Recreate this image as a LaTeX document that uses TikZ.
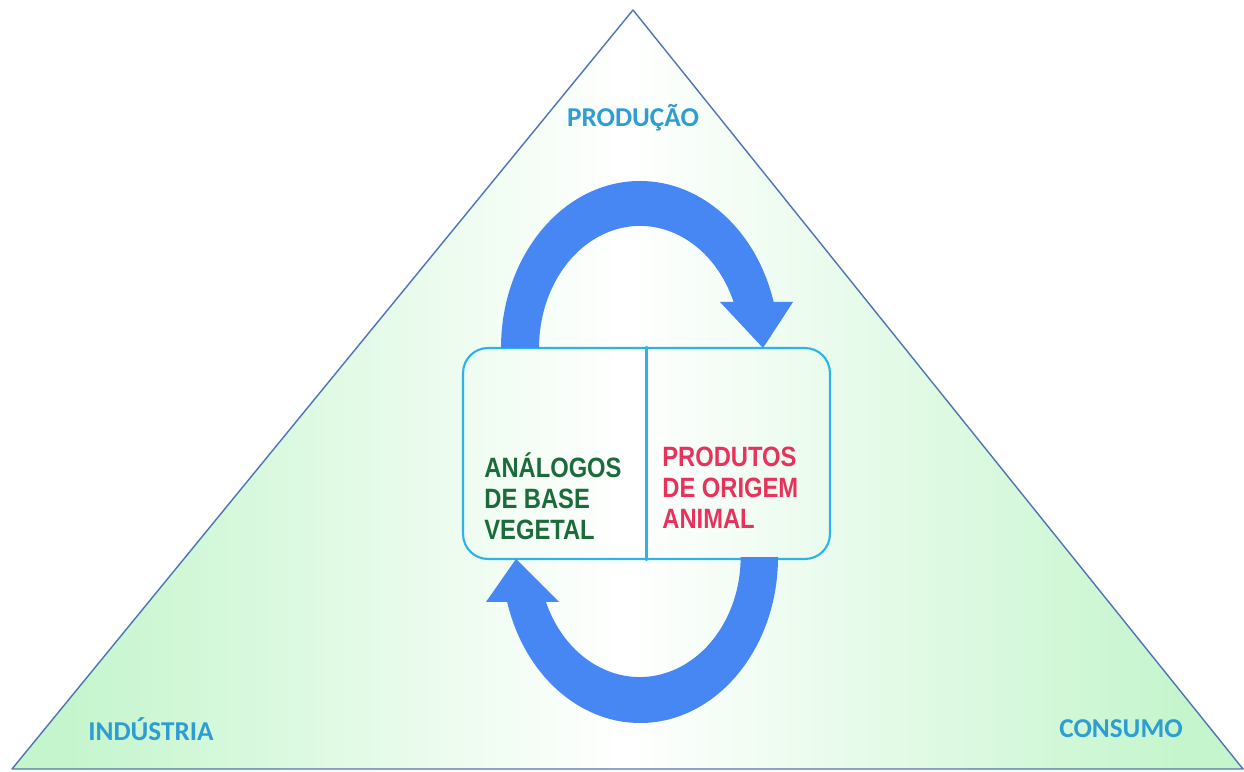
\documentclass[tikz,border=0pt]{standalone}
\usepackage{fontspec}
\setmainfont{Liberation Sans}
\newfontfamily\cantofont{Carlito}
\newfontfamily\caixafont[FakeStretch=0.85]{Liberation Sans}
\usetikzlibrary{positioning}
\definecolor{seta}{HTML}{4787F4}
\definecolor{verdeclaro}{HTML}{C4F5CC}
\definecolor{azultexto}{HTML}{2E9DD3}
\definecolor{contorno}{HTML}{4F74B5}
\definecolor{azulcaixa}{HTML}{2BB3EA}
\definecolor{verdeescuro}{HTML}{1B6B3B}
\definecolor{vermelho}{HTML}{E8325C}
\begin{document}
\begin{tikzpicture}[x=0.02cm, y=0.02cm, line join=round, line cap=round,
    canto/.style={font=\cantofont\bfseries\fontsize{15.5}{18}\selectfont, text=azultexto, inner sep=0pt},
    rotulo/.style={font=\caixafont\bfseries\fontsize{15.9}{17.6}\selectfont, align=left, inner sep=0pt, anchor=west}]
    \useasboundingbox (0,0) rectangle (1244,771);
    \begin{scope}
        \clip (12,2)--(633,761)--(1243,2)--cycle;
        \shade[left color=verdeclaro, right color=white] (60,0) rectangle (625,771);
        \shade[left color=white, right color=verdeclaro] (625,0) rectangle (1190,771);
        \fill[verdeclaro] (0,0) rectangle (60,771) (1190,0) rectangle (1244,771);
    \end{scope}
    \draw[contorno, line width=0.8pt] (12,2)--(633,761)--(1243,2)--cycle;

    \node[canto] (producao) at (633,653) {PRODUÇÃO};
    \node[canto] (industria) at (151,42) {INDÚSTRIA};
    \node[canto] (consumo) at (1121,42) {CONSUMO};

    \node[draw=azulcaixa, line width=1.2pt, rounded corners=0.5cm, minimum width=7.34cm, minimum height=4.22cm] (caixa) at (646.5,317.5) {};
    \draw[azulcaixa, line width=1.2pt] (caixa.north)--(caixa.south);
    \node[rotulo, text=verdeescuro] (analogos) at (484,275) {ANÁLOGOS\\DE BASE\\VEGETAL};
    \node[rotulo, text=vermelho] (produtos) at (662,283) {PRODUTOS\\DE ORIGEM\\ANIMAL};

    \fill[seta] (501,423) arc[start angle=180, end angle=16, x radius=139, y radius=167] -- (793,469) -- (763,423) -- (720,469) -- (733.6,469) arc[start angle=22.1, end angle=180, x radius=101, y radius=122] -- cycle;
    \fill[seta] (778,214) arc[start angle=0, end angle=-164.3, x radius=138, y radius=166] -- (486,169) -- (516,212) -- (559,169) -- (546,169) arc[start angle=-158, end angle=0, x radius=101, y radius=120] -- cycle;
\end{tikzpicture}
\end{document}
